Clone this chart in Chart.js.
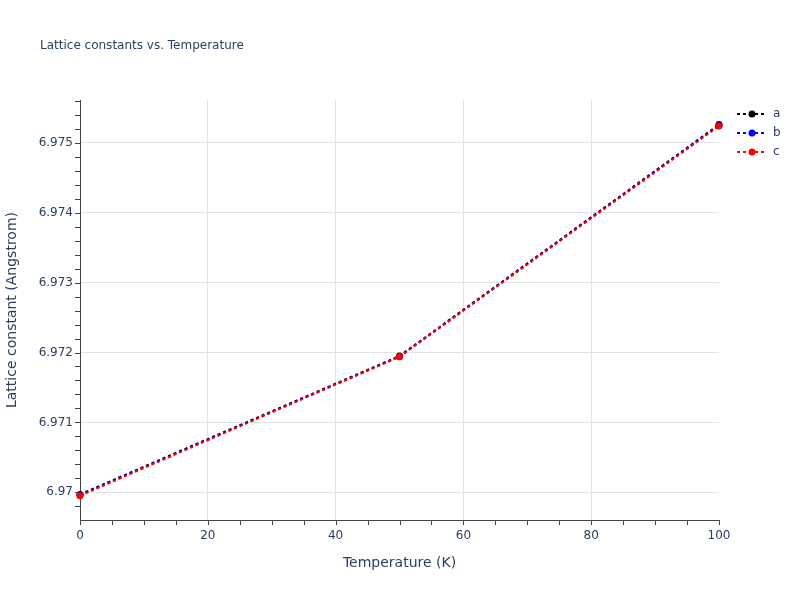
<!DOCTYPE html>
<html>
<head>
<meta charset="utf-8">
<script src="https://cdn.jsdelivr.net/npm/chart.js@4"></script>
<style>
  html, body { margin: 0; padding: 0; background: #fff; }
  #wrap { width: 800px; height: 600px; }
</style>
</head>
<body>
<div id="wrap"><canvas id="chart" width="800" height="600"></canvas></div>
<script>
// data
const temperatures = [0, 50, 100];
const aValues = [6.96997, 6.97195, 6.97526];
const bValues = [6.96996, 6.97194, 6.97525];
const cValues = [6.96995, 6.97194, 6.97524];
const seriesNames = ['a', 'b', 'c'];
const seriesColors = ['#000000', '#0000ff', '#ff0000'];
const yTicks = [6.970, 6.971, 6.972, 6.973, 6.974, 6.975];

const textColor = '#2a3f5f';
const fontFamily = '"DejaVu Sans", Verdana, sans-serif';

function toPoints(vals) {
    return temperatures.map((t, i) => ({ x: t, y: vals[i] }));
}

// minor ticks, titles and legend drawn on top
const extras = {
    id: 'extras',
    afterDraw(chart) {
        const ctx = chart.ctx;
        const xs = chart.scales.x, ys = chart.scales.y;
        const area = chart.chartArea;
        ctx.save();
        ctx.strokeStyle = '#444';
        ctx.lineWidth = 1;
        ctx.beginPath();
        for (let v = 0; v <= 100; v += 5) {
            const px = Math.round(xs.getPixelForValue(v)) + 0.5;
            ctx.moveTo(px, area.bottom);
            ctx.lineTo(px, area.bottom + 5);
        }
        for (let k = 0; ; k++) {
            const v = 6.9698 + k * 0.0002;
            if (v > ys.max) break;
            const py = Math.round(ys.getPixelForValue(v)) + 0.5;
            ctx.moveTo(area.left, py);
            ctx.lineTo(area.left - 5, py);
        }
        ctx.stroke();

        ctx.fillStyle = textColor;
        ctx.font = '12px ' + fontFamily;
        ctx.textAlign = 'left';
        ctx.textBaseline = 'middle';
        ctx.fillText('Lattice constants vs. Temperature', 40, 46);

        ctx.font = '14px ' + fontFamily;
        ctx.textAlign = 'center';
        ctx.fillText('Temperature (K)', (area.left + area.right) / 2, 563);
        ctx.save();
        ctx.translate(12, (area.top + area.bottom) / 2);
        ctx.rotate(-Math.PI / 2);
        ctx.fillText('Lattice constant (Angstrom)', 0, 0);
        ctx.restore();

        // legend
        seriesNames.forEach((name, i) => {
            const y = 114 + i * 19;
            ctx.strokeStyle = seriesColors[i];
            ctx.lineWidth = 2;
            ctx.setLineDash([3, 3]);
            ctx.beginPath();
            ctx.moveTo(737, y);
            ctx.lineTo(767, y);
            ctx.stroke();
            ctx.setLineDash([]);
            ctx.fillStyle = seriesColors[i];
            ctx.beginPath();
            ctx.arc(752, y, 3.5, 0, Math.PI * 2);
            ctx.fill();
            ctx.fillStyle = textColor;
            ctx.font = '12px ' + fontFamily;
            ctx.textAlign = 'left';
            ctx.fillText(name, 773, y);
        });
        ctx.restore();
    }
};

const datasets = [aValues, bValues, cValues].map((vals, i) => ({
    label: seriesNames[i],
    data: toPoints(vals),
    borderColor: seriesColors[i],
    backgroundColor: seriesColors[i],
    borderWidth: 2,
    borderDash: [3, 3],
    pointRadius: 3.5,
    pointHoverRadius: 3.5,
    pointBorderWidth: 0,
    tension: 0,
    clip: false,
    order: 3 - i
}));

new Chart(document.getElementById('chart'), {
    type: 'line',
    data: { datasets },
    options: {
        responsive: false,
        animation: false,
        layout: { padding: { left: 0, top: 100, right: 81, bottom: 0 } },
        plugins: { legend: { display: false }, tooltip: { enabled: false }, title: { display: false } },
        scales: {
            x: {
                type: 'linear',
                min: 0,
                max: 100,
                afterFit(scale) { scale.height = 80; },
                ticks: {
                    stepSize: 20,
                    padding: 9,
                    color: textColor,
                    font: { family: fontFamily, size: 12 }
                },
                grid: {
                    color: c => (c.tick && (c.tick.value === 0 || c.tick.value === 100)) ? 'rgba(0,0,0,0)' : '#e2e2e2',
                    drawTicks: false
                },
                border: { display: true, color: '#444', width: 1 }
            },
            y: {
                min: 6.969604,
                max: 6.975612,
                afterFit(scale) { scale.width = 80; },
                afterBuildTicks(scale) { scale.ticks = yTicks.map(v => ({ value: v })); },
                ticks: {
                    padding: 7,
                    color: textColor,
                    font: { family: fontFamily, size: 12 },
                    callback: v => String(parseFloat(v.toFixed(3)))
                },
                grid: { color: '#e2e2e2', drawTicks: false },
                border: { display: true, color: '#444', width: 1 }
            }
        }
    },
    plugins: [extras]
});
</script>
</body>
</html>
